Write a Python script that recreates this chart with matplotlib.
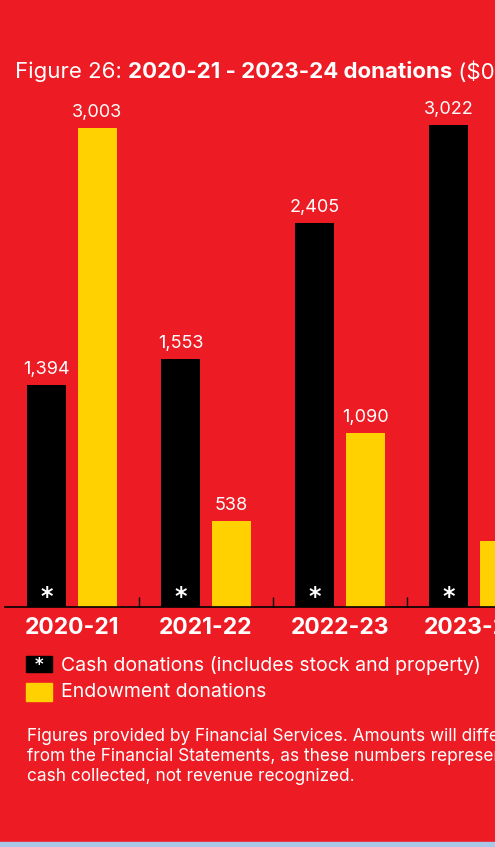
import matplotlib
matplotlib.use("Agg")
import matplotlib.pyplot as plt
from matplotlib.patches import Rectangle

years = ["2020-21", "2021-22", "2022-23", "2023-24"]
cash = [1394, 1553, 2405, 3022]
endowment = [3003, 538, 1090, 414]

RED = "#ED1C24"
YELLOW = "#FFD100"
W, H = 495, 847
FONT = "Inter"


def fx(px):
    return px / W


def fy(py):
    # pixel rows counted from the top
    return 1 - py / H


fig = plt.figure(figsize=(W / 100, H / 100), dpi=100, facecolor=RED)

# plot area: baseline at row 607, left edge at column 5
ax = fig.add_axes([fx(5), fy(607), fx(490), (607 - 90) / H])
ax.set_facecolor(RED)
scale = 482 / 3022  # pixels per $000
ax.set_xlim(-0.5, (495 - 72) / 134)
ax.set_ylim(0, 517 / scale)

xs = list(range(len(years)))
off = 0.19
bw = 0.29
ax.bar([x - off for x in xs], cash, width=bw, color="black", zorder=2)
ax.bar([x + off for x in xs], endowment, width=bw, color=YELLOW, zorder=2)

for x, c, e in zip(xs, cash, endowment):
    ax.annotate(f"{c:,}", (x - off, c), xytext=(0, 5), textcoords="offset points",
                ha="center", va="bottom", color="white", fontsize=13, family=FONT)
    ax.annotate(f"{e:,}", (x + off, e), xytext=(0, 5), textcoords="offset points",
                ha="center", va="bottom", color="white", fontsize=13, family=FONT)
    ax.annotate("*", (x - off, 0), xytext=(0, -1.5), textcoords="offset points",
                ha="center", va="bottom", color="white", fontsize=17,
                fontweight="bold", family="DejaVu Sans")

for s in ["top", "right", "left"]:
    ax.spines[s].set_visible(False)
ax.spines["bottom"].set_color("black")
ax.spines["bottom"].set_linewidth(1.2)
ax.set_yticks([])
ax.set_xticks([x + 0.5 for x in xs[:-1]])
ax.set_xticklabels([])
ax.tick_params(axis="x", direction="in", length=7, width=1, color="black")
for x, y in zip(xs, years):
    ax.text(x, -0.02, y, transform=ax.get_xaxis_transform(), ha="center", va="top",
            color="white", fontsize=16.5, fontweight="bold", family=FONT)

# title, split into regular and bold runs
r = fig.canvas.get_renderer()
x0 = fx(15)
for txt, wt in [("Figure 26: ", "normal"), ("2020-21 - 2023-24 donations", "bold"),
                (" ($000s)", "normal")]:
    t = fig.text(x0, fy(72), txt, color="white", fontsize=16, fontweight=wt,
                 family=FONT, va="center", ha="left")
    x0 += t.get_window_extent(r).width / W

# legend
fig.patches.append(Rectangle((fx(26), fy(672)), fx(26), 16 / H, color="black",
                             transform=fig.transFigure, figure=fig))
fig.text(fx(39), fy(665), "*", color="white", fontsize=12, fontweight="bold",
         ha="center", va="center", family="DejaVu Sans")
fig.patches.append(Rectangle((fx(26), fy(701)), fx(26), 18 / H, color=YELLOW,
                             transform=fig.transFigure, figure=fig))
fig.text(fx(61), fy(665), "Cash donations (includes stock and property)", color="white",
         fontsize=14, family=FONT, va="center")
fig.text(fx(61), fy(692), "Endowment donations", color="white",
         fontsize=14, family=FONT, va="center")

note = ("Figures provided by Financial Services. Amounts will differ\n"
        "from the Financial Statements, as these numbers represent\n"
        "cash collected, not revenue recognized.")
fig.text(fx(27), fy(728), note, color="white", fontsize=12.4, family=FONT,
         va="top", linespacing=1.22)

# pale strip along the bottom edge
fig.patches.append(Rectangle((0, 0), 1, 5 / H, color="#A9C8E8",
                             transform=fig.transFigure, figure=fig))

fig.savefig("out.png", dpi=100, facecolor=RED)
